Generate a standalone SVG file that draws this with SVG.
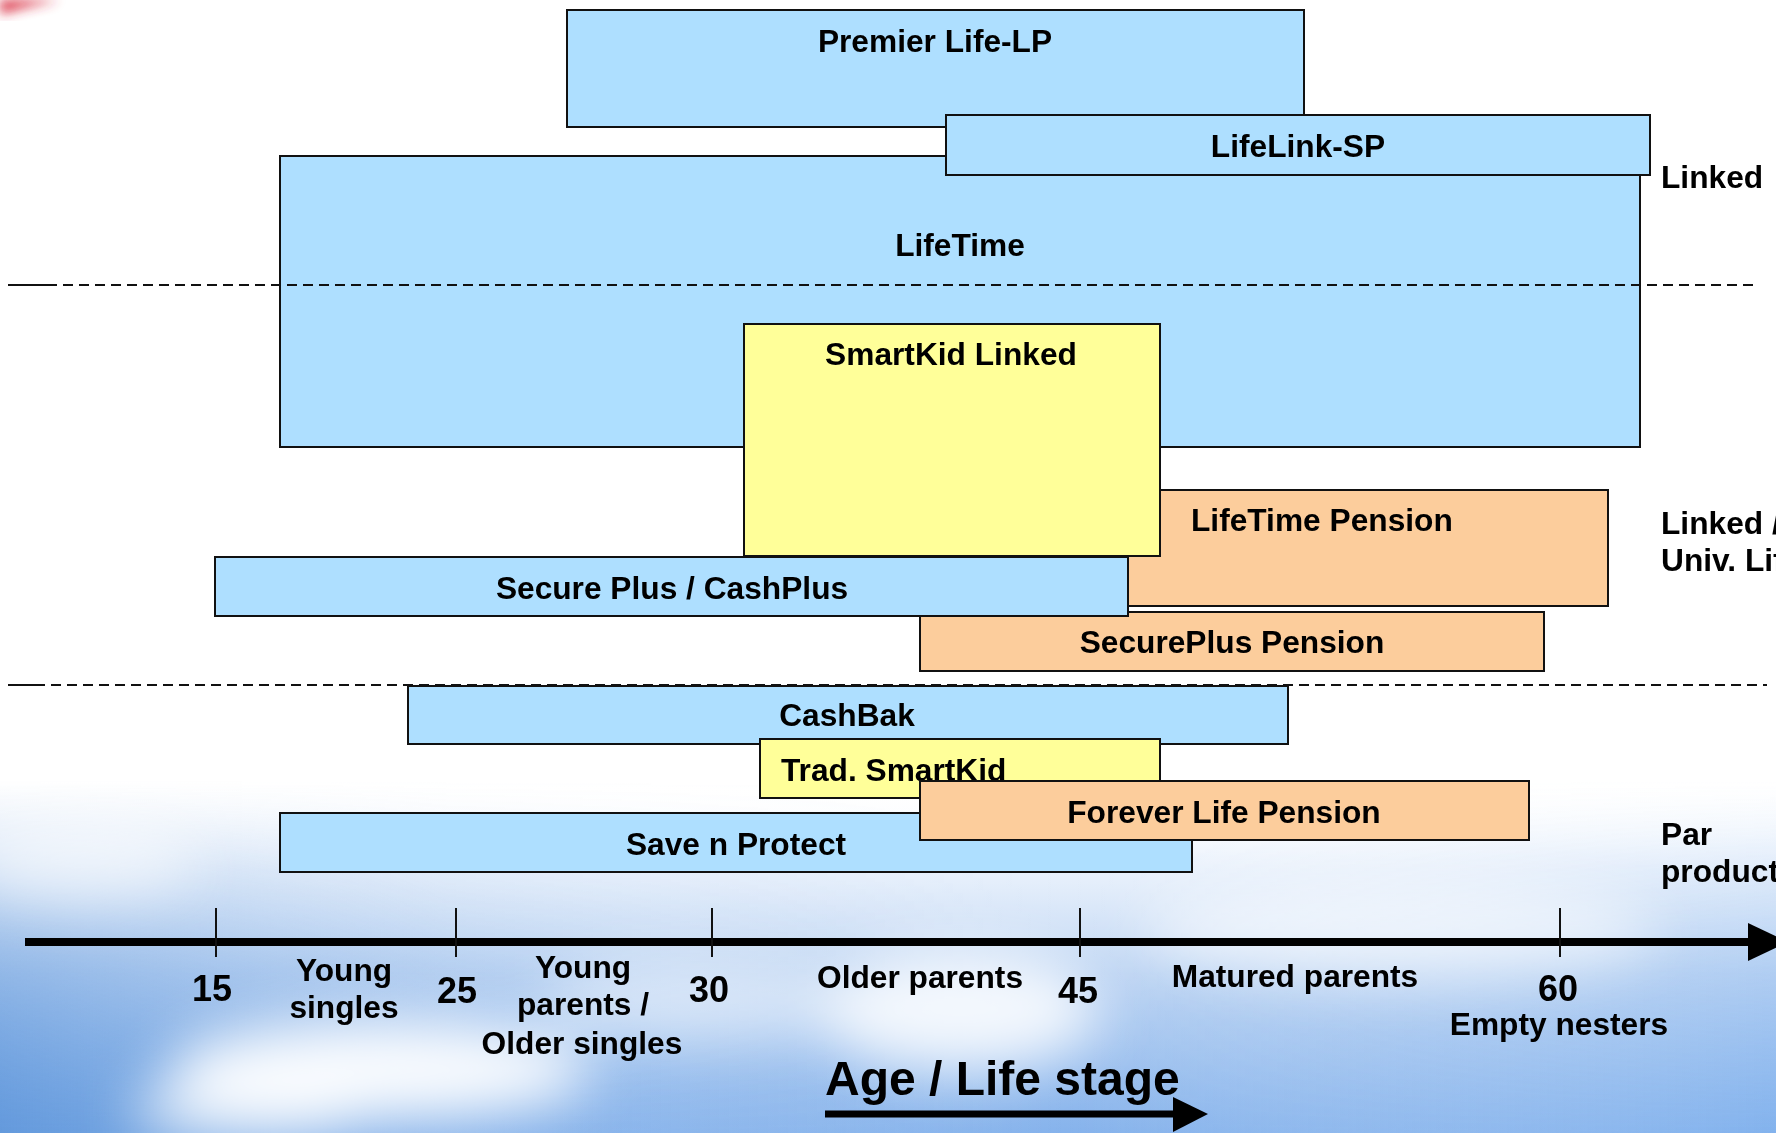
<svg xmlns="http://www.w3.org/2000/svg" width="1776" height="1133" viewBox="0 0 1776 1133">
<style>
  text { font-family: "Liberation Sans", Arial, sans-serif; font-weight: bold; fill: #000; }
  .lbl { font-size: 31.7px; }
  .mid { text-anchor: middle; }
  .num { font-size: 36px; text-anchor: middle; }
  .title { font-size: 48px; }
  .box { stroke: #111; stroke-width: 2; }
  .blue { fill: #aedfff; }
  .yellow { fill: #ffff99; }
  .orange { fill: #fccd9c; }
  .dash { stroke: #111; stroke-width: 2; stroke-dasharray: 10 6; fill: none; }
  .tick { stroke: #111; stroke-width: 2; }
</style>
<defs>
  <linearGradient id="sky" x1="0" y1="0" x2="0" y2="1">
    <stop offset="0" stop-color="#ffffff" stop-opacity="0"/>
    <stop offset="0.25" stop-color="#e4eefb" stop-opacity="0.8"/>
    <stop offset="0.55" stop-color="#bcd4f3"/>
    <stop offset="1" stop-color="#86b3ec"/>
  </linearGradient>
  <linearGradient id="skyLeft" x1="0" y1="0" x2="1" y2="0">
    <stop offset="0" stop-color="#5b93d8" stop-opacity="0.8"/>
    <stop offset="0.25" stop-color="#7aa8e2" stop-opacity="0.25"/>
    <stop offset="0.6" stop-color="#ffffff" stop-opacity="0"/>
    <stop offset="1" stop-color="#7eb2f0" stop-opacity="0.35"/>
  </linearGradient>
  <linearGradient id="fadeTop" x1="0" y1="0" x2="0" y2="1">
    <stop offset="0" stop-color="#fff" stop-opacity="0"/>
    <stop offset="1" stop-color="#fff" stop-opacity="1"/>
  </linearGradient>
  <mask id="skyMask">
    <rect x="0" y="780" width="1776" height="353" fill="url(#fadeTop)"/>
  </mask>
  <filter id="blur" x="-50%" y="-50%" width="200%" height="200%">
    <feGaussianBlur stdDeviation="28"/>
  </filter>
  <filter id="blurS" x="-50%" y="-50%" width="200%" height="200%">
    <feGaussianBlur stdDeviation="6"/>
  </filter>
</defs>

<g id="background">
  <rect x="0" y="0" width="1776" height="1133" fill="#ffffff"/>
  <rect x="0" y="780" width="1776" height="353" fill="url(#sky)"/>
  <rect x="0" y="780" width="1776" height="353" fill="url(#skyLeft)" mask="url(#skyMask)"/>
  <g filter="url(#blur)" fill="#ffffff">
    <ellipse cx="380" cy="1070" rx="210" ry="50" opacity="0.95"/>
    <ellipse cx="250" cy="1110" rx="120" ry="30" opacity="0.8"/>
    <ellipse cx="960" cy="1010" rx="140" ry="60" opacity="0.85"/>
    <ellipse cx="700" cy="1000" rx="160" ry="40" opacity="0.5"/>
    <ellipse cx="1400" cy="930" rx="260" ry="50" opacity="0.6"/>
    <ellipse cx="80" cy="860" rx="120" ry="40" opacity="0.6"/>
  </g>
  <path d="M0,0 L60,0 Q30,6 0,14 Z" fill="#d8283a" filter="url(#blurS)" opacity="0.9"/>
</g>

<g id="separators">
  <line x1="8" y1="285" x2="57" y2="285" stroke="#111" stroke-width="2"/>
  <line x1="8" y1="685" x2="45" y2="685" stroke="#111" stroke-width="2"/>
</g>

<g id="node-lifetime">
  <rect class="box blue" x="280" y="156" width="1360" height="291"/>
  <text class="lbl mid" x="960" y="256">LifeTime</text>
</g>
<g id="node-premier-life-lp">
  <rect class="box blue" x="567" y="10" width="737" height="117"/>
  <text class="lbl mid" x="935" y="52">Premier Life-LP</text>
</g>
<g id="node-lifelink-sp">
  <rect class="box blue" x="946" y="115" width="704" height="60"/>
  <text class="lbl mid" x="1298" y="157">LifeLink-SP</text>
</g>

<line class="dash" x1="63" y1="285" x2="1753" y2="285"/>

<g id="node-lifetime-pension">
  <rect class="box orange" x="1000" y="490" width="608" height="116"/>
  <text class="lbl" x="1191" y="531">LifeTime Pension</text>
</g>
<g id="node-smartkid-linked">
  <rect class="box yellow" x="744" y="324" width="416" height="232"/>
  <text class="lbl mid" x="951" y="365">SmartKid Linked</text>
</g>
<g id="node-secureplus-pension">
  <rect class="box orange" x="920" y="612" width="624" height="59"/>
  <text class="lbl mid" x="1232" y="653">SecurePlus Pension</text>
</g>
<g id="node-secure-plus-cashplus">
  <rect class="box blue" x="215" y="557" width="913" height="59"/>
  <text class="lbl mid" x="672" y="599">Secure Plus / CashPlus</text>
</g>

<g id="node-cashbak">
  <rect class="box blue" x="408" y="686" width="880" height="58"/>
  <text class="lbl mid" x="847" y="726">CashBak</text>
</g>
<line class="dash" x1="51" y1="685" x2="1767" y2="685"/>
<g id="node-trad-smartkid">
  <rect class="box yellow" x="760" y="739" width="400" height="59"/>
  <text class="lbl" x="781" y="781">Trad. SmartKid</text>
</g>
<g id="node-save-n-protect">
  <rect class="box blue" x="280" y="813" width="912" height="59"/>
  <text class="lbl mid" x="736" y="855">Save n Protect</text>
</g>
<g id="node-forever-life-pension">
  <rect class="box orange" x="920" y="781" width="609" height="59"/>
  <text class="lbl mid" x="1224" y="823">Forever Life Pension</text>
</g>

<g id="category-labels">
  <text class="lbl" x="1661" y="188">Linked</text>
  <text class="lbl" x="1661" y="534">Linked /</text>
  <text class="lbl" x="1661" y="571">Univ. Life</text>
  <text class="lbl" x="1661" y="845">Par</text>
  <text class="lbl" x="1661" y="882">products</text>
</g>

<g id="connectors">
  <line x1="25" y1="942" x2="1750" y2="942" stroke="#000" stroke-width="8"/>
  <polygon points="1748,923 1788,942 1748,961" fill="#000"/>
  <line class="tick" x1="216" y1="908" x2="216" y2="957"/>
  <line class="tick" x1="456" y1="908" x2="456" y2="957"/>
  <line class="tick" x1="712" y1="908" x2="712" y2="957"/>
  <line class="tick" x1="1080" y1="908" x2="1080" y2="957"/>
  <line class="tick" x1="1560" y1="908" x2="1560" y2="957"/>
  <line x1="825" y1="1114" x2="1175" y2="1114" stroke="#000" stroke-width="7"/>
  <polygon points="1173,1097 1208,1114 1173,1132" fill="#000"/>
</g>

<g id="axis-labels">
  <text class="num" x="212" y="1001">15</text>
  <text class="num" x="457" y="1003">25</text>
  <text class="num" x="709" y="1002">30</text>
  <text class="num" x="1078" y="1003">45</text>
  <text class="num" x="1558" y="1001">60</text>
  <text class="lbl mid" x="344" y="981">Young</text>
  <text class="lbl mid" x="344" y="1018">singles</text>
  <text class="lbl mid" x="583" y="978">Young</text>
  <text class="lbl mid" x="583" y="1015">parents /</text>
  <text class="lbl mid" x="582" y="1054">Older singles</text>
  <text class="lbl mid" x="920" y="988">Older parents</text>
  <text class="lbl mid" x="1295" y="987">Matured parents</text>
  <text class="lbl mid" x="1559" y="1035">Empty nesters</text>
  <text class="title" x="825" y="1095">Age / Life stage</text>
</g>
</svg>
